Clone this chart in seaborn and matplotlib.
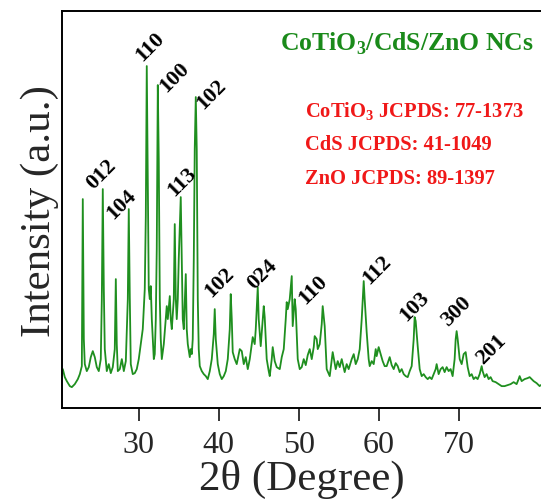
import matplotlib
matplotlib.use('Agg')
import matplotlib.pyplot as plt
import seaborn as sns
import pandas as pd

# XRD pattern (2 theta in degree, intensity in a.u.)
two_theta = [20.50, 20.75, 21.00, 21.38, 21.63, 22.00, 22.38, 22.63, 22.88, 23.00,
             23.13, 23.25, 23.50, 23.75, 24.00, 24.25, 24.50, 24.75, 25.00, 25.25,
             25.38, 25.50, 25.63, 25.75, 26.00, 26.25, 26.50, 26.75, 27.00, 27.13,
             27.25, 27.38, 27.63, 27.88, 28.13, 28.38, 28.63, 28.75, 28.88, 29.00,
             29.25, 29.50, 29.75, 30.00, 30.25, 30.50, 30.75, 30.88, 31.00, 31.13,
             31.25, 31.38, 31.50, 31.63, 31.88, 32.00, 32.13, 32.25, 32.38, 32.50,
             32.63, 32.75, 32.88, 33.13, 33.38, 33.50, 33.63, 33.88, 34.00, 34.13,
             34.38, 34.50, 34.63, 34.75, 34.88, 35.00, 35.25, 35.38, 35.50, 35.63,
             35.88, 36.00, 36.13, 36.38, 36.50, 36.63, 36.75, 36.88, 37.00, 37.13,
             37.25, 37.38, 37.50, 37.63, 37.88, 38.13, 38.38, 38.63, 38.88, 39.13,
             39.38, 39.50, 39.63, 39.88, 40.13, 40.38, 40.63, 40.88, 41.13, 41.38,
             41.50, 41.63, 41.75, 42.00, 42.25, 42.38, 42.63, 42.88, 43.13, 43.38,
             43.63, 43.88, 44.13, 44.25, 44.50, 44.63, 44.88, 45.00, 45.25, 45.50,
             45.63, 45.75, 46.00, 46.25, 46.38, 46.63, 46.75, 47.00, 47.25, 47.63,
             47.88, 48.13, 48.38, 48.50, 48.63, 48.88, 49.13, 49.25, 49.50, 49.63,
             49.88, 50.13, 50.38, 50.63, 50.88, 51.13, 51.38, 51.63, 51.88, 52.00,
             52.25, 52.38, 52.63, 52.88, 53.00, 53.25, 53.50, 53.88, 54.25, 54.63,
             54.88, 55.13, 55.38, 55.75, 56.00, 56.25, 56.63, 56.88, 57.13, 57.38,
             57.63, 57.88, 58.13, 58.25, 58.50, 58.75, 58.88, 59.13, 59.38, 59.63,
             59.75, 60.00, 60.25, 60.50, 60.75, 61.00, 61.38, 61.63, 61.88, 62.13,
             62.38, 62.63, 62.88, 63.13, 63.38, 63.63, 63.88, 64.13, 64.38, 64.50,
             64.63, 64.88, 65.13, 65.38, 65.63, 65.88, 66.13, 66.38, 66.63, 66.88,
             67.13, 67.25, 67.50, 67.75, 68.00, 68.25, 68.50, 68.75, 69.00, 69.25,
             69.50, 69.63, 69.75, 69.88, 70.13, 70.38, 70.63, 70.88, 71.13, 71.38,
             71.63, 71.88, 72.13, 72.38, 72.63, 72.88, 73.00, 73.25, 73.50, 73.75,
             74.00, 74.25, 74.63, 75.00, 75.38, 75.75, 76.13, 76.50, 76.88, 77.25,
             77.50, 77.63, 77.88, 78.25, 78.63, 78.88, 79.13, 79.38, 79.75, 80.13,
             80.25]
intensity = [39, 31, 27, 22, 21, 24, 29, 34, 42, 209,
             69, 44, 37, 41, 51, 57, 51, 41, 37, 49,
             109, 219, 119, 59, 37, 44, 35, 41, 59, 129,
             64, 37, 39, 49, 37, 47, 109, 199, 109, 44,
             34, 35, 39, 49, 64, 79, 119, 192, 342, 229,
             119, 109, 122, 89, 49, 54, 89, 159, 323, 249,
             109, 69, 49, 64, 89, 102, 89, 112, 89, 79,
             109, 184, 109, 89, 109, 149, 211, 149, 89, 79,
             134, 79, 64, 51, 59, 54, 69, 149, 259, 311,
             259, 109, 59, 42, 37, 34, 32, 29, 37, 49,
             74, 99, 69, 44, 34, 29, 32, 37, 49, 79,
             114, 89, 56, 49, 44, 49, 59, 57, 44, 51,
             39, 49, 64, 71, 64, 79, 121, 89, 62, 89,
             102, 91, 49, 37, 32, 49, 61, 47, 41, 39,
             51, 59, 89, 106, 99, 109, 132, 82, 109, 99,
             49, 39, 41, 49, 43, 53, 59, 49, 61, 72,
             69, 59, 64, 84, 102, 82, 39, 32, 56, 39,
             47, 41, 49, 36, 44, 39, 49, 54, 44, 49,
             59, 89, 127, 109, 76, 49, 42, 47, 44, 59,
             52, 61, 54, 47, 42, 42, 51, 43, 39, 45,
             42, 36, 39, 34, 32, 31, 37, 42, 69, 91,
             87, 62, 39, 32, 34, 31, 29, 31, 29, 34,
             39, 44, 34, 39, 41, 36, 41, 37, 39, 32,
             49, 69, 77, 69, 49, 44, 54, 56, 41, 32,
             34, 29, 31, 29, 34, 42, 37, 31, 34, 29,
             31, 27, 26, 24, 22, 22, 23, 24, 26, 24,
             29, 32, 27, 29, 30, 31, 29, 27, 25, 22,
             23]

# hkl labels and where they sit
hkl_labels = ['012', '104', '110', '100', '113', '102', '102', '024',
              '110', '112', '103', '300', '201']
hkl_x = [25.38, 27.88, 31.38, 34.50, 35.38, 39.13, 40.13, 45.50,
         51.75, 59.75, 64.50, 69.75, 74.13]
hkl_y = [234, 204, 362, 331, 227, 314, 126, 134,
         119, 139, 102, 97, 59]

jcpds_lines = ['CoTiO$_\\mathbf{3}$ JCPDS: 77-1373', 'CdS JCPDS: 41-1049', 'ZnO JCPDS: 89-1397']
x_ticks = [30, 40, 50, 60, 70]

df = pd.DataFrame({'two_theta': two_theta, 'intensity': intensity})

sns.set_style('white')
plt.rcParams['font.family'] = ['Liberation Serif', 'DejaVu Serif']
plt.rcParams['mathtext.fontset'] = 'custom'
plt.rcParams['mathtext.rm'] = 'Liberation Serif'
plt.rcParams['mathtext.bf'] = 'Liberation Serif:bold'

fig = plt.figure(figsize=(5.41, 5.02), dpi=100)
ax = fig.add_axes([0.1146, 0.185, 0.8854, 0.791])

sns.lineplot(data=df, x='two_theta', y='intensity', color='#1f8f1f', linewidth=1.3, ax=ax)

ax.set_xlim(20.4, 80.3)
ax.set_ylim(0, 397)
ax.set_xticks(x_ticks)
ax.set_yticks([])
ax.tick_params(axis='x', direction='out', length=9, width=1.3, labelsize=23, pad=7, bottom=True)
for side in ['left', 'bottom', 'top']:
    ax.spines[side].set_linewidth(1.4)
    ax.spines[side].set_color('black')
ax.spines['right'].set_visible(False)

ax.set_xlabel('2θ (Degree)', fontsize=31, labelpad=0)
ax.set_ylabel('Intensity (a.u.)', fontsize=31, labelpad=2)

for lab, hx, hy in zip(hkl_labels, hkl_x, hkl_y):
    ax.text(hx, hy, lab, rotation=45, ha='center', va='center',
            fontsize=16, fontweight='bold', color='black')

ax.text(0.9855, 0.92, 'CoTiO$_\\mathbf{3}$/CdS/ZnO NCs', transform=ax.transAxes,
        ha='right', va='center', fontsize=18.5, fontweight='bold', color='#1a8a1a')
for i, line in enumerate(jcpds_lines):
    ax.text(0.507, 0.75 - i * 0.085, line, transform=ax.transAxes,
            ha='left', va='center', fontsize=14.8, fontweight='bold', color='#f01818')

plt.savefig('out.png', dpi=100)
